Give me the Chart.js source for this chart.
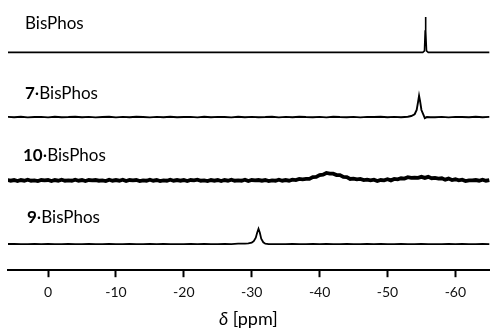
<!DOCTYPE html>
<html>
<head>
<meta charset="utf-8">
<script src="https://cdn.jsdelivr.net/npm/chart.js@4.4.1/dist/chart.umd.min.js"></script>
<style>
  html, body { margin: 0; padding: 0; background: #fff; }
</style>
</head>
<body>
<canvas id="nmr" width="490" height="329"></canvas>
<script>
// x axis ticks, ppm
const tickValues = [0, -10, -20, -30, -40, -50, -60];

// sample names: bold compound number + the rest
const sampleNums = ['', '7', '10', '9'];
const sampleNames = ['BisPhos', '\u00b7BisPhos', '\u00b7BisPhos', '\u00b7BisPhos'];

// BisPhos
const ppmA = [6, -55.2, -55.45, -55.55, -55.6, -55.65, -55.75, -56.0, -65];
const intA = [0, 0, 4, 60, 100, 60, 4, 0, 0];

// 7·BisPhos
const ppmB = [6, 5, 4, 3, 2, 1, 0, -1, -2, -3, -4, -5, -6, -7, -8, -9, -10, -11, -12, -13,
  -14, -15, -16, -17, -18, -19, -20, -21, -22, -23, -24, -25, -26, -27, -28, -29, -30, -31, -32, -33,
  -34, -35, -36, -37, -38, -39, -40, -41, -42, -43, -44, -45, -46, -47, -48, -49, -50, -51, -52, -53,
  -53.5, -54, -54.3, -54.5, -54.65, -54.8, -55, -55.3, -55.5, -55.8, -56.3,
  -57, -58, -59, -60, -61, -62, -63, -64, -65];
const intB = [0.5, -0.5, 1, -1, 0, 0.5, -1, 1, -0.5, 0, 1, -0.5, 0.5, -1, 0, 1, -1, 0.5, -0.5, 1,
  0, -1, 0.5, -0.5, 1, -0.5, 0, 0.5, -1, 1, -0.5, 0.5, 0, -1, 1, -0.5, 0.5, -0.5, 0, 1,
  -1, 0.5, -0.5, 1, 0, -0.5, 0.5, -1, 1, 0, -0.5, 0.5, -1, 0.5, 0, 1, -0.5, 0.5, -0.5, 1,
  3, 8, 20, 42, 60, 45, 20, 6, -3, 0, -0.5,
  -0.5, 0.5, -1, 0.5, 0, -0.5, 1, -0.5, 0.5];

// 10·BisPhos
const ppmC = [6, 5.5, 5, 4.5, 4, 3.5, 3, 2.5, 2, 1.5, 1, 0.5, 0, -0.5, -1, -1.5, -2, -2.5, -3, -3.5,
  -4, -4.5, -5, -5.5, -6, -6.5, -7, -7.5, -8, -8.5, -9, -9.5, -10, -10.5, -11, -11.5, -12, -12.5, -13, -13.5,
  -14, -14.5, -15, -15.5, -16, -16.5, -17, -17.5, -18, -18.5, -19, -19.5, -20, -20.5, -21, -21.5, -22, -22.5, -23, -23.5,
  -24, -24.5, -25, -25.5, -26, -26.5, -27, -27.5, -28, -28.5, -29, -29.5, -30, -30.5, -31, -31.5, -32, -32.5, -33, -33.5,
  -34, -34.5, -35, -35.5, -36, -36.5, -37, -37.5, -38, -38.5, -39, -39.5, -40, -40.5, -41, -41.5, -42, -42.5, -43, -43.5,
  -44, -44.5, -45, -45.5, -46, -46.5, -47, -47.5, -48, -48.5, -49, -49.5, -50, -50.5, -51, -51.5, -52, -52.5, -53, -53.5,
  -54, -54.5, -55, -55.5, -56, -56.5, -57, -57.5, -58, -58.5, -59, -59.5, -60, -60.5, -61, -61.5, -62, -62.5, -63, -63.5,
  -64, -64.5, -65];
const intC = [1, -1, 1, -2, 1, -1, 2, -1, 0, -2, 1, 0, 1, -2, 1, -1, 2, -1, 0, -1,
  2, -1, 1, -2, 1, 0, 1, -1, 0, -2, 2, -1, 1, -1, 2, -2, 1, 0, 1, -2,
  0, -1, 2, -1, 1, -2, 0, -1, 2, -1, 1, -1, 1, -2, 1, 0, 2, -1, 0, -2,
  1, -1, 1, -2, 1, -1, 2, -1, 0, -1, 2, -2, 1, 0, 1, -1, 1, -2, 0, -1,
  2, -1, 1, -1, 2, 1, 4, 3, 4, 4, 9, 10, 15, 16, 21, 19, 19, 15, 15, 10,
  9, 4, 5, 3, 4, 1, 2, 0, 2, -2, 1, 0, 3, 0, 4, 3, 6, 5, 9, 7,
  8, 7, 10, 7, 10, 6, 7, 5, 6, 2, 5, 1, 3, 0, 2, -2, 0, 0, 1, -1,
  2, -1, 1];

// 9·BisPhos
const ppmD = [6, 5, 4, 3, 2, 1, 0, -1, -2, -3, -4, -5, -6, -7, -8, -9, -10, -11, -12, -13,
  -14, -15, -16, -17, -18, -19, -20, -21, -22, -23, -24, -25, -26, -27, -28, -29,
  -29.5, -30, -30.3, -30.6, -30.8, -31, -31.2, -31.4, -31.7, -32, -32.5, -33,
  -34, -35, -36, -37, -38, -39, -40, -41, -42, -43, -44, -45, -46, -47, -48, -49,
  -50, -51, -52, -53, -54, -55, -56, -57, -58, -59, -60, -61, -62, -63, -64, -65];
const intD = [0, 0.5, -0.5, 0, 0.5, -0.5, 0.5, 0, -0.5, 0.5, 0, -0.5, 0.5, -0.5, 0, 0.5, -0.5, 0, 0.5, -0.5,
  0, 0.5, -0.5, 0.5, 0, -0.5, 0, 0.5, -0.5, 0.5, 0, -0.5, 0.5, 0, 1, 1,
  2, 4, 8, 18, 32, 43, 32, 15, 5, 1, 0, 0,
  0, -0.5, 0.5, 0, -0.5, 0.5, 0, 0.5, -0.5, 0, 0.5, -0.5, 0, 0.5, -0.5, 0.5,
  0, -0.5, 0.5, 0, -0.5, 0.5, 0, -0.5, 0, 0.5, -0.5, 0.5, 0, -0.5, 0.5, 0];

const traces = [
  { id: 'yA', ppm: ppmA, val: intA, min: -43, max: 148, width: 1.6 },
  { id: 'yB', ppm: ppmB, val: intB, min: -51, max: 140, width: 1.9 },
  { id: 'yC', ppm: ppmC, val: intC, min: -63, max: 128, width: 3.8 },
  { id: 'yD', ppm: ppmD, val: intD, min: -74, max: 117, width: 1.8 }
];

// label placement: left edge and height above the trace baseline
const labelX = [25, 25, 23, 27];
const labelRise = [29, 24, 25, 27];

const fontFamily = 'Lato, "Liberation Sans", sans-serif';

const datasets = traces.map(t => ({
  data: t.ppm.map((x, i) => ({ x: x, y: t.val[i] })),
  yAxisID: t.id,
  showLine: true,
  borderColor: '#000',
  borderWidth: t.width,
  pointRadius: 0,
  tension: 0
}));

const scales = {};
// bottom trace first so the stacked axes come out top-to-bottom A, B, C, D
traces.slice().reverse().forEach(t => {
  scales[t.id] = {
    type: 'linear',
    position: 'left',
    stack: 'nmr',
    stackWeight: 1,
    min: t.min,
    max: t.max,
    ticks: { display: false },
    grid: { display: false },
    border: { display: false }
  };
});
scales.x = {
  type: 'linear',
  reverse: true,
  min: -65.1,
  max: 5.9,
  afterBuildTicks: s => { s.ticks = tickValues.map(v => ({ value: v })); },
  grid: { display: true, drawOnChartArea: false, drawTicks: true, tickLength: 7, tickWidth: 2, tickColor: '#000' },
  border: { display: true, color: '#000', width: 2 },
  ticks: {
    color: '#111',
    font: { family: fontFamily, size: 14 },
    padding: 7,
    maxRotation: 0,
    autoSkip: false,
    callback: v => String(v)
  }
};

const textPlugin = {
  id: 'nmrText',
  afterDraw(chart) {
    const ctx = chart.ctx;
    ctx.save();
    ctx.fillStyle = '#000';
    ctx.textBaseline = 'middle';
    ctx.textAlign = 'left';
    traces.forEach((t, i) => {
      const y = chart.scales[t.id].getPixelForValue(0) - labelRise[i];
      let x = labelX[i];
      if (sampleNums[i]) {
        ctx.font = 'bold 17px ' + fontFamily;
        ctx.fillText(sampleNums[i], x, y);
        x += ctx.measureText(sampleNums[i]).width;
      }
      ctx.font = '17px ' + fontFamily;
      ctx.fillText(sampleNames[i], x, y);
    });
    // axis title: italic delta + [ppm]
    const cx = chart.scales.x.getPixelForValue(-29.5);
    const ty = chart.height - 10;
    const d = '\u03b4';
    const rest = ' [ppm]';
    ctx.font = 'italic 18px ' + fontFamily;
    const w1 = ctx.measureText(d).width;
    ctx.font = '18px ' + fontFamily;
    const w2 = ctx.measureText(rest).width;
    const sx = cx - (w1 + w2) / 2;
    ctx.font = 'italic 18px ' + fontFamily;
    ctx.fillText(d, sx, ty);
    ctx.font = '18px ' + fontFamily;
    ctx.fillText(rest, sx + w1, ty);
    ctx.restore();
  }
};

new Chart(document.getElementById('nmr'), {
  type: 'scatter',
  data: { datasets: datasets },
  options: {
    responsive: false,
    animation: false,
    layout: { padding: { left: 0, right: 0, top: 0, bottom: 21 } },
    plugins: { legend: { display: false }, tooltip: { enabled: false } },
    scales: scales
  },
  plugins: [textPlugin]
});
</script>
</body>
</html>
